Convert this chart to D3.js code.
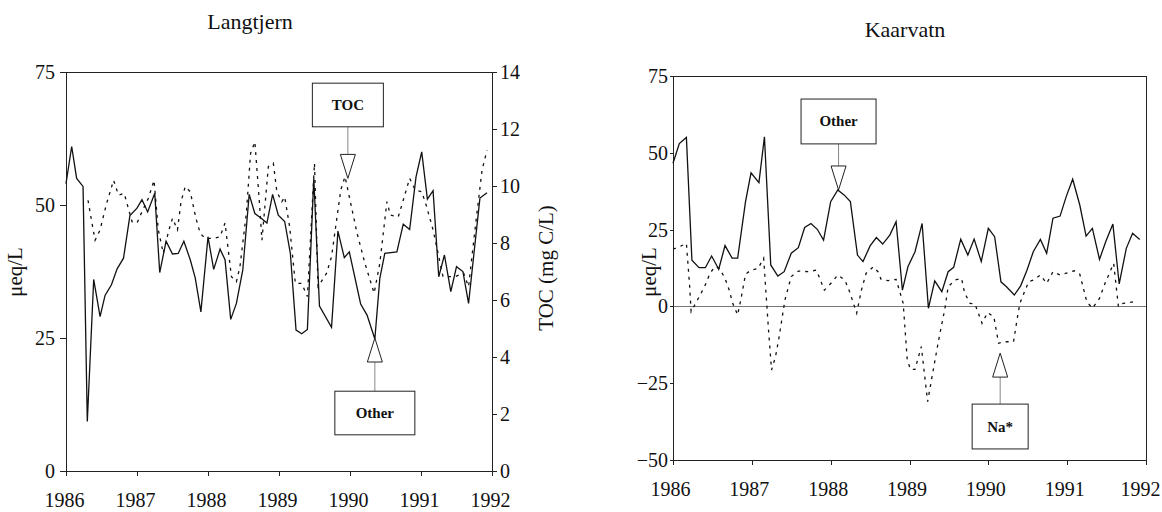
<!DOCTYPE html>
<meta charset="utf-8">
<style>
  body { margin: 0; background: #fff; }
  svg text { font-family: "Liberation Serif", "Times New Roman", Times, "DejaVu Serif", serif !important; }
  .axis path, .axis line { stroke: #222; stroke-width: 1; shape-rendering: crispEdges; }
  .axis text { font-size: 20px; fill: #111; }
  .frame { stroke: #222; stroke-width: 1; fill: none; shape-rendering: crispEdges; }
  .title { font-size: 22px; fill: #111; }
  .ylabel { font-size: 21px; fill: #111; }
  .solid { fill: none; stroke: #111; stroke-width: 1.3; }
  .dotted { fill: none; stroke: #111; stroke-width: 1.3; stroke-dasharray: 3,5; }
  .note rect { fill: #fff; stroke: #222; stroke-width: 1; }
  .note text { font-size: 15px; font-weight: bold; fill: #111; }
  .note line { stroke: #888; stroke-width: 1; }
  .note polygon { fill: #fff; stroke: #222; stroke-width: 1; }
</style>
<body>
<svg></svg>

<script src="https://d3js.org/d3.v7.min.js"></script>
<script type='text/javascript'>

// ---- data (decimal year, value) ----
var yearTicks = [1986, 1987, 1988, 1989, 1990, 1991, 1992];

// Langtjern, "Other" (ueq/L, solid)
var langOtherYear = [1986.00, 1986.08, 1986.15, 1986.24, 1986.30, 1986.39, 1986.48, 1986.55, 1986.64, 1986.72,
  1986.81, 1986.90, 1987.00, 1987.07, 1987.15, 1987.25, 1987.32, 1987.41, 1987.50, 1987.58,
  1987.66, 1987.75, 1987.82, 1987.90, 1988.00, 1988.08, 1988.17, 1988.24, 1988.32, 1988.40,
  1988.49, 1988.58, 1988.66, 1988.75, 1988.83, 1988.91, 1988.99, 1989.08, 1989.16, 1989.24,
  1989.32, 1989.40, 1989.49, 1989.57, 1989.74, 1989.83, 1989.92, 1989.99, 1990.15, 1990.24,
  1990.35, 1990.42, 1990.49, 1990.66, 1990.75, 1990.84, 1990.93, 1991.01, 1991.09, 1991.17,
  1991.25, 1991.33, 1991.42, 1991.50, 1991.59, 1991.67, 1991.83, 1991.93];
var langOtherVal = [54, 61, 55, 53.5, 9.3, 36, 29, 33, 35, 38,
  40, 48, 49.4, 51, 48.7, 52.2, 37.3, 43.2, 40.8, 40.9,
  43.2, 39.7, 36.3, 29.9, 44, 37.9, 41.7, 39.7, 28.5, 31.5,
  37.8, 52, 48.4, 47.5, 46.6, 52, 48.1, 46.9, 40.9, 26.5,
  25.8, 26.6, 55, 31, 27, 45.1, 40.1, 41.2, 31.4, 29.3,
  24.8, 36.2, 40.9, 41.2, 46.4, 45.4, 55.3, 60, 51.1, 52.7,
  36.5, 40.6, 33.7, 38.4, 37.5, 31.5, 51.3, 52.3];

// Langtjern, TOC (mg C/L, dotted)
var langTocYear = [1986.31, 1986.38, 1986.41, 1986.48, 1986.57, 1986.67, 1986.74, 1986.82, 1986.93, 1987.00,
  1987.07, 1987.16, 1987.24, 1987.30, 1987.37, 1987.45, 1987.50, 1987.57, 1987.62, 1987.68,
  1987.75, 1987.83, 1987.89, 1987.96, 1988.07, 1988.17, 1988.24, 1988.33, 1988.40, 1988.45,
  1988.54, 1988.60, 1988.66, 1988.72, 1988.76, 1988.85, 1988.92, 1988.97, 1989.04, 1989.08,
  1989.15, 1989.23, 1989.32, 1989.40, 1989.50, 1989.55, 1989.67, 1989.74, 1989.87, 1989.93,
  1990.04, 1990.10, 1990.21, 1990.34, 1990.42, 1990.52, 1990.57, 1990.68, 1990.75, 1990.84,
  1990.92, 1991.01, 1991.08, 1991.17, 1991.31, 1991.48, 1991.60, 1991.67, 1991.76, 1991.86, 1991.93];
var langTocVal = [9.5, 8.5, 8.1, 8.46, 9.37, 10.2, 9.68, 9.74, 8.75, 8.7,
  9.1, 9.57, 10.2, 8.46, 7.64, 8.46, 8.87, 8.46, 9.45, 9.98,
  9.8, 8.87, 8.34, 8.16, 8.16, 8.22, 8.7, 6.82, 6.64, 7.17,
  9.04, 11.15, 11.55, 9.57, 8.1, 10.68, 10.8, 9.8, 9.45, 9.62,
  8.57, 6.58, 6.58, 6.12, 10.8, 6.47, 6.94, 7.52, 9.86, 10.33,
  9.04, 8.34, 7.29, 6.24, 7.29, 9.45, 8.98, 8.92, 9.5, 10.27,
  9.86, 9.8, 9.27, 8.46, 6.82, 6.82, 6.94, 6.47, 8.46, 10.56, 11.26];

// Kaarvatn, "Other" (ueq/L, solid)
var kaarOtherYear = [1986.00, 1986.08, 1986.17, 1986.24, 1986.33, 1986.41, 1986.49, 1986.58, 1986.66, 1986.75,
  1986.82, 1986.92, 1986.99, 1987.09, 1987.16, 1987.24, 1987.33, 1987.41, 1987.50, 1987.59,
  1987.67, 1987.75, 1987.83, 1987.91, 1988.00, 1988.09, 1988.17, 1988.25, 1988.34, 1988.41,
  1988.50, 1988.58, 1988.66, 1988.75, 1988.83, 1988.91, 1988.98, 1989.07, 1989.16, 1989.24,
  1989.32, 1989.41, 1989.49, 1989.56, 1989.65, 1989.74, 1989.82, 1989.91, 1990.00, 1990.08,
  1990.16, 1990.23, 1990.33, 1990.41, 1990.49, 1990.57, 1990.66, 1990.74, 1990.82, 1990.91,
  1990.99, 1991.07, 1991.16, 1991.24, 1991.32, 1991.41, 1991.49, 1991.58, 1991.66, 1991.75,
  1991.83, 1991.92];
var kaarOtherVal = [46.6, 53, 55, 15, 12.6, 12.6, 16.4, 12.1, 19.8, 15.7,
  15.7, 34.1, 43.5, 40.3, 55.2, 13.5, 9.9, 11.3, 17.3, 19.1,
  25.7, 27, 25.1, 21.6, 34.1, 37.9, 36.3, 34.1, 16.7, 14.6,
  19.7, 22.4, 20.3, 23.2, 27.6, 5.3, 12.9, 17.8, 27, -0.6,
  8.3, 4.8, 11.3, 12.7, 21.9, 16.7, 21.9, 14.6, 25.4, 22.7,
  8.0, 6.4, 3.7, 6.7, 11.8, 17.8, 21.8, 17.3, 28.7, 29.4,
  35.9, 41.4, 33, 22.9, 25.4, 15.3, 21.1, 26.8, 7.3, 18.9,
  23.8, 21.8];

// Kaarvatn, Na* (ueq/L, dotted)
var kaarNaYear = [1986.00, 1986.08, 1986.17, 1986.21, 1986.23, 1986.31, 1986.40, 1986.47, 1986.53, 1986.59,
  1986.66, 1986.72, 1986.75, 1986.82, 1986.86, 1986.92, 1986.99, 1987.08, 1987.15, 1987.21,
  1987.25, 1987.30, 1987.34, 1987.42, 1987.50, 1987.59, 1987.71, 1987.82, 1987.92, 1988.01,
  1988.09, 1988.18, 1988.24, 1988.33, 1988.39, 1988.45, 1988.54, 1988.60, 1988.64, 1988.73,
  1988.83, 1988.92, 1988.97, 1989.01, 1989.07, 1989.15, 1989.23, 1989.29, 1989.37, 1989.45,
  1989.49, 1989.58, 1989.66, 1989.70, 1989.77, 1989.83, 1989.92, 1989.99, 1990.07, 1990.13,
  1990.19, 1990.32, 1990.37, 1990.40, 1990.51, 1990.57, 1990.66, 1990.74, 1990.82, 1990.91,
  1990.99, 1991.09, 1991.16, 1991.25, 1991.32, 1991.41, 1991.48, 1991.59, 1991.65, 1991.71, 1991.84];
var kaarNaVal = [18.6, 19.4, 20.5, 7.0, -1.7, 2.1, 6.4, 10.8, 12.9, 12.4,
  9.1, 4.8, 1.5, -2.8, 2.1, 10.5, 11.8, 12.4, 15.7, -7.1,
  -20.7, -16.4, -10.9, 2.1, 9.7, 11.5, 11.3, 11.8, 5.3, 7.7,
  10.2, 8.6, 4.8, -2.2, 5.3, 10.8, 12.9, 11.3, 8.8, 8.4,
  8.8, 1.0, -16.9, -20.5, -20.5, -13.1, -31, -22.3, -10.9, -0.6,
  6.4, 8.6, 9.1, 4.3, 1.0, 0.8, -5.5, -2.0, -3.4, -12.0,
  -11.5, -11.5, -3.4, 1.0, 8.0, 8.6, 10.2, 7.5, 11.3, 10.2,
  10.8, 11.6, 10.5, 1.5, -0.6, 2.6, 7.5, 14, -0.1, 1.0, 1.5];

// annotation anchors: tip (year, value) and the box edges (value units)
var langNotes = [
  {label: 'TOC', year: 1989.97, tip: 55, boxNear: 64.7, boxFar: 72.9, w: 71},
  {label: 'Other', year: 1990.35, tip: 25, boxNear: 15.0, boxFar: 6.8, w: 80}
];
var kaarNotes = [
  {label: 'Other', year: 1988.10, tip: 37.9, boxNear: 52.9, boxFar: 67.5, w: 75},
  {label: 'Na*', year: 1990.15, tip: -15.2, boxNear: -31.8, boxFar: -46.4, w: 56}
];

var svg = d3.select('svg')
    .attr('width', 1162)
    .attr('height', 512);

function pairs(xs, ys) {
    return xs.map(function(x, i) { return [x, ys[i]]; });
}

function drawNotes(g, notes, x, y) {
    var th = 24, hw = 7.5;
    notes.forEach(function(n) {
        var cx = x(n.year), ty = y(n.tip);
        var near = y(n.boxNear), far = y(n.boxFar);
        var down = near < ty;   // box sits above the tip
        var top = Math.min(near, far), bot = Math.max(near, far);
        var base = down ? ty - th : ty + th;
        var ng = g.append('g').attr('class', 'note');
        ng.append('line')
            .attr('x1', cx).attr('x2', cx)
            .attr('y1', near).attr('y2', base);
        ng.append('polygon')
            .attr('points', [[cx - hw, base], [cx + hw, base], [cx, ty]].join(' '));
        ng.append('rect')
            .attr('x', cx - n.w / 2).attr('y', top)
            .attr('width', n.w).attr('height', bot - top);
        ng.append('text')
            .attr('x', cx).attr('y', (top + bot) / 2)
            .attr('text-anchor', 'middle')
            .attr('dominant-baseline', 'central')
            .text(n.label);
    });
}

// ---------- Langtjern ----------
var lx = d3.scaleLinear().domain([1986, 1992]).range([66, 492]);
var ly = d3.scaleLinear().domain([0, 75]).range([471, 72]);
var ltoc = d3.scaleLinear().domain([0, 14]).range([471, 72]);

var lang = svg.append('g').attr('id', 'langtjern');

lang.append('line').attr('class', 'frame')
    .attr('x1', lx(1986)).attr('x2', lx(1992))
    .attr('y1', ly(75)).attr('y2', ly(75));

var lxAxis = lang.append('g').attr('class', 'x axis')
    .attr('transform', 'translate(0,' + ly(0) + ')')
    .call(d3.axisBottom(lx).tickValues(yearTicks).tickFormat(d3.format('d'))
        .tickSizeOuter(0).tickSize(5).tickPadding(17));
lxAxis.selectAll('.tick text').attr('dx', -2);

lang.append('g').attr('class', 'y axis')
    .attr('transform', 'translate(' + lx(1986) + ',0)')
    .call(d3.axisLeft(ly).tickValues([0, 25, 50, 75]).tickSizeOuter(0).tickSize(6).tickPadding(5));

lang.append('g').attr('class', 'y axis')
    .attr('transform', 'translate(' + lx(1992) + ',0)')
    .call(d3.axisRight(ltoc).tickValues(d3.range(0, 15, 2)).tickSizeOuter(0).tickSize(5).tickPadding(3));

var lineL = d3.line().x(function(d) { return lx(d[0]); }).y(function(d) { return ly(d[1]); });
var lineToc = d3.line().x(function(d) { return lx(d[0]); }).y(function(d) { return ltoc(d[1]); });

lang.append('path').attr('class', 'dotted').attr('d', lineToc(pairs(langTocYear, langTocVal)));
lang.append('path').attr('class', 'solid').attr('d', lineL(pairs(langOtherYear, langOtherVal)));

drawNotes(lang, langNotes, lx, ly);

lang.append('text').attr('class', 'title')
    .attr('x', 250).attr('y', 29)
    .attr('text-anchor', 'middle')
    .text('Langtjern');

lang.append('text').attr('class', 'ylabel')
    .attr('transform', 'translate(22,' + 272 + ')rotate(-90)')
    .attr('text-anchor', 'middle')
    .text('μeq/L');

lang.append('text').attr('class', 'ylabel')
    .attr('transform', 'translate(553,' + 268 + ')rotate(-90)')
    .attr('text-anchor', 'middle')
    .text('TOC (mg C/L)');

// ---------- Kaarvatn ----------
var kx = d3.scaleLinear().domain([1986, 1992]).range([673, 1146]);
var ky = d3.scaleLinear().domain([-50, 75]).range([460, 76]);

var kaar = svg.append('g').attr('id', 'kaarvatn');

kaar.append('line').attr('class', 'frame')
    .attr('x1', kx(1986)).attr('x2', kx(1992))
    .attr('y1', ky(75)).attr('y2', ky(75));
kaar.append('line').attr('class', 'frame')
    .attr('x1', kx(1992)).attr('x2', kx(1992))
    .attr('y1', ky(75)).attr('y2', ky(-50));

kaar.append('line')
    .attr('x1', kx(1986)).attr('x2', kx(1992))
    .attr('y1', ky(0)).attr('y2', ky(0))
    .attr('stroke', '#777').attr('stroke-width', 1)
    .attr('shape-rendering', 'crispEdges');

var kxAxis = kaar.append('g').attr('class', 'x axis')
    .attr('transform', 'translate(0,' + ky(-50) + ')')
    .call(d3.axisBottom(kx).tickValues(yearTicks).tickFormat(d3.format('d'))
        .tickSizeOuter(0).tickSize(5).tickPadding(17));
// labels in the source sit a little left of their ticks; keep the last one inside the page
kxAxis.selectAll('.tick text').attr('dx', function(d) { return d === 1992 ? -6 : -3; });

kaar.append('g').attr('class', 'y axis')
    .attr('transform', 'translate(' + kx(1986) + ',0)')
    .call(d3.axisLeft(ky).tickValues([-50, -25, 0, 25, 50, 75]).tickSizeOuter(0).tickSize(3).tickPadding(2));

var lineK = d3.line().x(function(d) { return kx(d[0]); }).y(function(d) { return ky(d[1]); });

kaar.append('path').attr('class', 'dotted').attr('d', lineK(pairs(kaarNaYear, kaarNaVal)));
kaar.append('path').attr('class', 'solid').attr('d', lineK(pairs(kaarOtherYear, kaarOtherVal)));

drawNotes(kaar, kaarNotes, kx, ky);

kaar.append('text').attr('class', 'title')
    .attr('x', 905).attr('y', 37)
    .attr('text-anchor', 'middle')
    .text('Kaarvatn');

kaar.append('text').attr('class', 'ylabel')
    .attr('transform', 'translate(656,' + 272 + ')rotate(-90)')
    .attr('text-anchor', 'middle')
    .text('μeq/L');

</script>
